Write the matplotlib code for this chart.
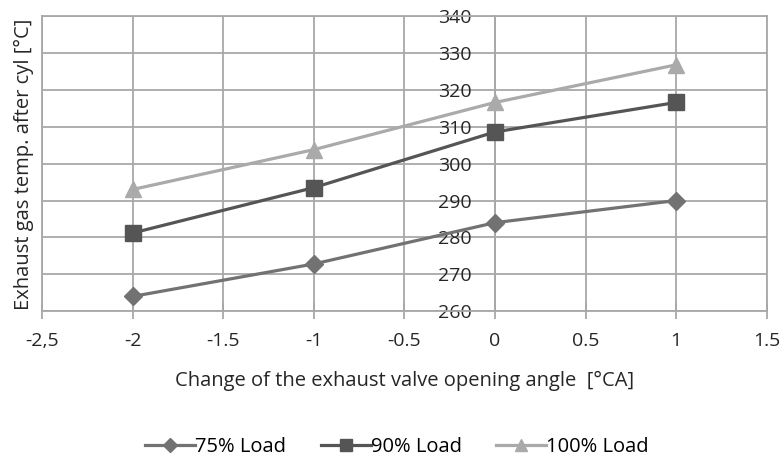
import matplotlib
matplotlib.use("Agg")
import matplotlib.pyplot as plt

plt.rcParams['font.family'] = ['Open Sans', 'DejaVu Sans']

x = [-2, -1, 0, 1]
load75 = [264, 272.8, 284, 290]
load90 = [281.2, 293.5, 308.6, 316.6]
load100 = [293, 303.8, 316.6, 326.8]
series_names = ['75% Load', '90% Load', '100% Load']
xticks = [-2.5, -2, -1.5, -1, -0.5, 0, 0.5, 1, 1.5]
xticklabels = ['-2,5', '-2', '-1.5', '-1', '-0.5', '0', '0.5', '1', '1.5']
yticks = [260, 270, 280, 290, 300, 310, 320, 330, 340]

fig = plt.figure(figsize=(7.84, 4.61), dpi=100)
ax = fig.add_axes([0.0536, 0.325, 0.9245, 0.64])

gc = '#a8a8a8'
tc = '#262626'
fs = 14
ax.set_xlim(-2.5, 1.5)
ax.set_ylim(260, 340)
ax.set_xticks(xticks)
ax.set_xticklabels(xticklabels)
ax.set_yticks(yticks)
ax.grid(True, color=gc, lw=1.3)
ax.set_axisbelow(True)
for s in ['top', 'right', 'bottom', 'left']:
    ax.spines[s].set_color(gc)
    ax.spines[s].set_linewidth(1.3)
ax.spines['left'].set_position(('data', 0))
ax.axvline(-2.5, color=gc, lw=1.3, zorder=0, clip_on=False)
ax.tick_params(axis='x', direction='inout', length=12, color=gc, width=1.3,
               labelsize=fs, pad=9, labelcolor=tc)
ax.tick_params(axis='y', direction='out', length=0, color=gc, width=1.3,
               labelsize=fs, pad=17, labelcolor=tc)

ax.plot(x, load75, color='#727272', lw=2.3, marker='D', ms=9, label=series_names[0], zorder=3)
ax.plot(x, load90, color='#555555', lw=2.3, marker='s', ms=11, label=series_names[1], zorder=3)
ax.plot(x, load100, color='#aaaaaa', lw=2.3, marker='^', ms=11, label=series_names[2], zorder=3)

ax.set_xlabel('Change of the exhaust valve opening angle  [°CA]', fontsize=14.5,
              color=tc, va='center')
ax.xaxis.set_label_coords((405 - 42) / 725, (311 - 381) / 295)
fig.text(0.031, 1 - 164 / 461, 'Exhaust gas temp. after cyl [°C]', rotation=90,
         fontsize=14.5, color=tc, ha='center', va='center')

fig.legend(loc='center', bbox_to_anchor=(397 / 784, 1 - 447 / 461), ncol=3, frameon=False,
           fontsize=14.5, handlelength=2.5, columnspacing=1.7, handletextpad=0.0,
           markerscale=0.8)

fig.savefig('out.png', dpi=100)
